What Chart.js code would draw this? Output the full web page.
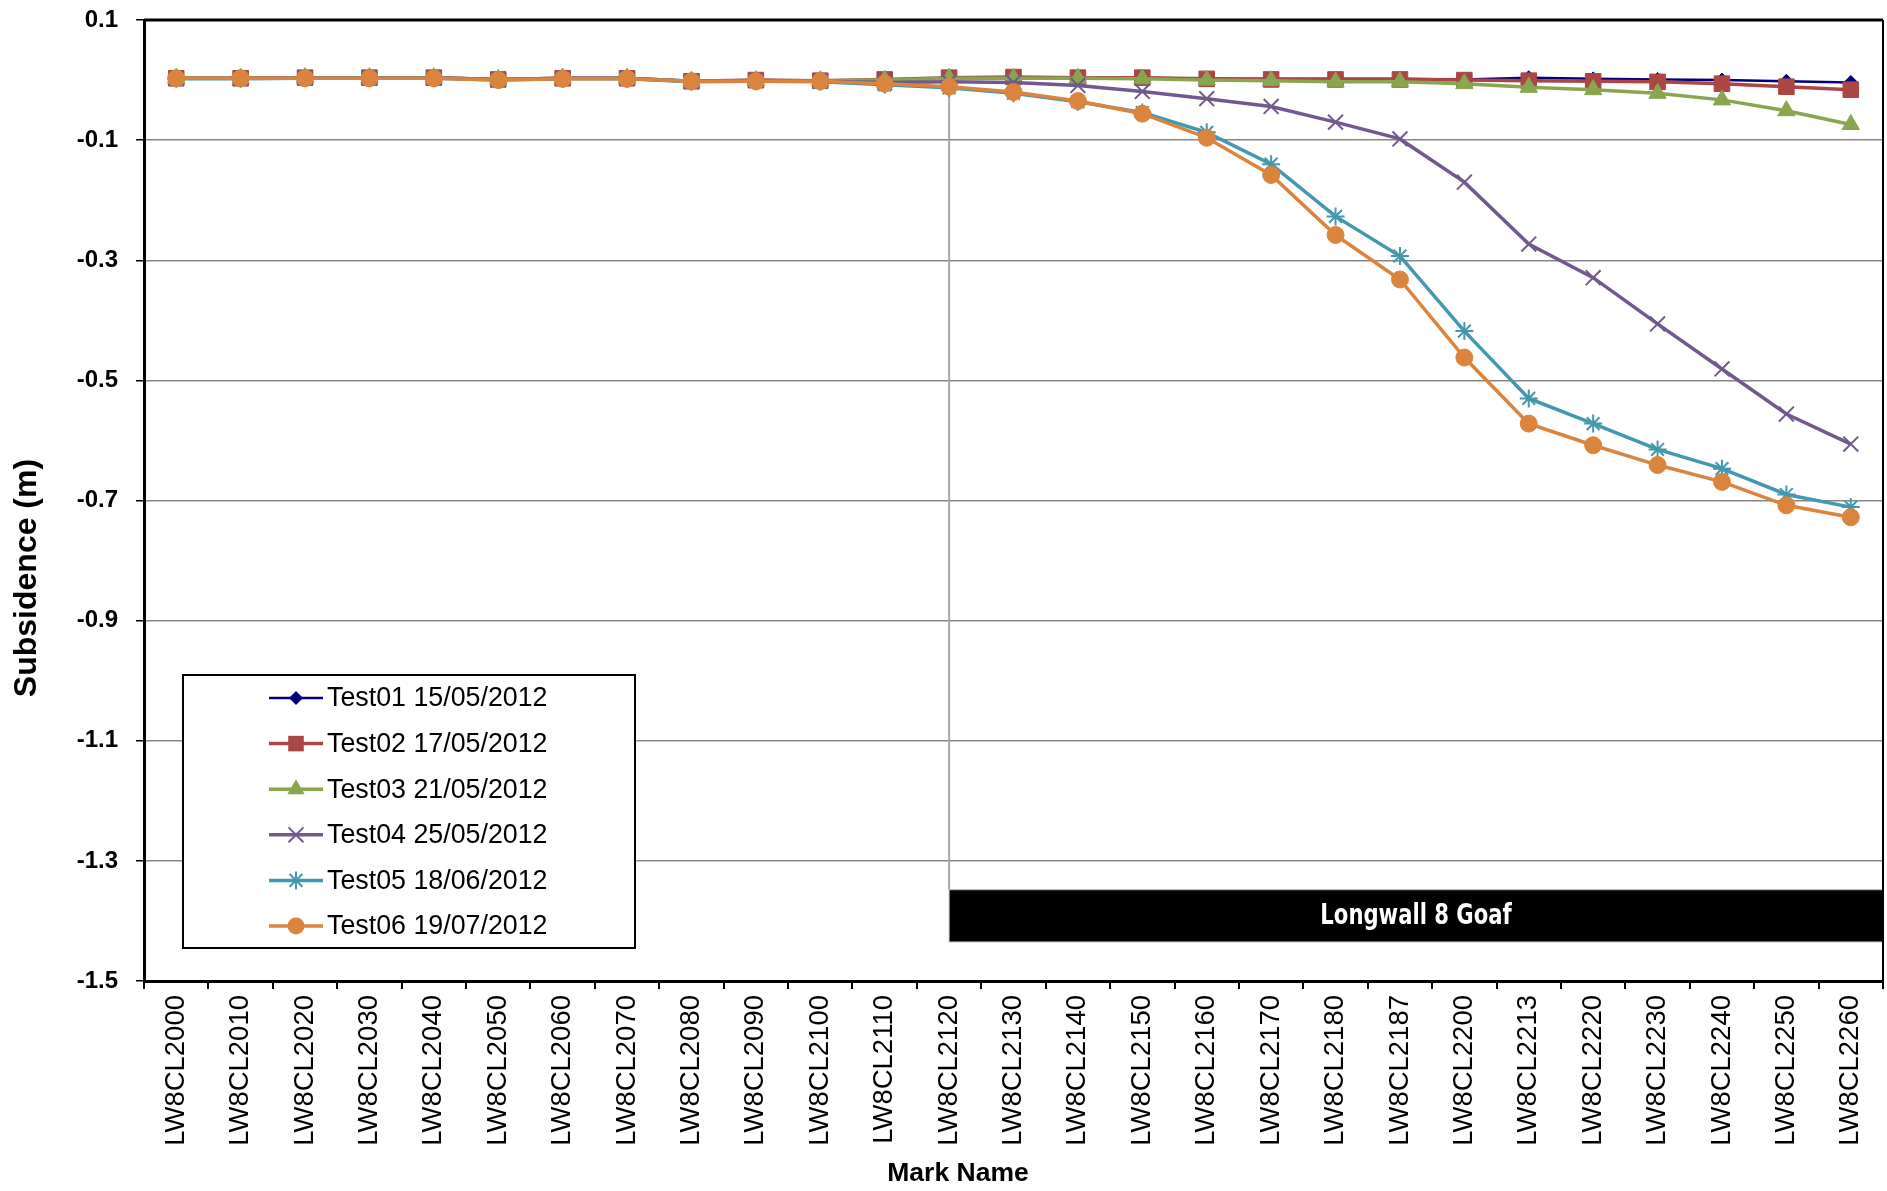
<!DOCTYPE html>
<html>
<head>
<meta charset="utf-8">
<script src="https://cdn.jsdelivr.net/npm/chart.js@4.4.1/dist/chart.umd.min.js"></script>
<style>
html,body{margin:0;padding:0;background:#fff;}
#wrap{width:1887px;height:1191px;position:relative;}
</style>
</head>
<body>
<div id="wrap"><canvas id="c" width="1887" height="1191"></canvas></div>
<script>
// ---------- data ----------
const markNames = [
  'LW8CL2000','LW8CL2010','LW8CL2020','LW8CL2030','LW8CL2040','LW8CL2050',
  'LW8CL2060','LW8CL2070','LW8CL2080','LW8CL2090','LW8CL2100','LW8CL2110',
  'LW8CL2120','LW8CL2130','LW8CL2140','LW8CL2150','LW8CL2160','LW8CL2170',
  'LW8CL2180','LW8CL2187','LW8CL2200','LW8CL2213','LW8CL2220','LW8CL2230',
  'LW8CL2240','LW8CL2250','LW8CL2260'
];
const yTicks = [0.1, -0.1, -0.3, -0.5, -0.7, -0.9, -1.1, -1.3, -1.5];
const seriesNames = [
  'Test01 15/05/2012','Test02 17/05/2012','Test03 21/05/2012',
  'Test04 25/05/2012','Test05 18/06/2012','Test06 19/07/2012'
];
const test01 = [0.003,0.003,0.004,0.004,0.004,0.001,0.003,0.003,-0.002,0.000,-0.001,0.000,
  0.003,0.004,0.004,0.004,0.002,0.002,0.002,0.002,0.001,0.004,0.002,0.001,0.000,-0.002,-0.004];
const test02 = [0.003,0.003,0.004,0.004,0.004,0.001,0.003,0.003,-0.002,0.000,-0.001,0.001,
  0.004,0.005,0.004,0.004,0.002,0.001,0.001,0.001,0.000,-0.001,-0.002,-0.003,-0.006,-0.011,-0.016];
const test03 = [0.003,0.003,0.004,0.004,0.004,0.001,0.003,0.003,-0.002,-0.001,-0.001,0.000,
  0.003,0.003,0.003,0.002,0.000,-0.001,-0.003,-0.003,-0.006,-0.012,-0.016,-0.022,-0.033,-0.051,-0.074];
const test04 = [0.003,0.003,0.004,0.004,0.004,0.001,0.003,0.003,-0.002,-0.001,-0.002,-0.004,
  -0.003,-0.004,-0.009,-0.019,-0.031,-0.044,-0.070,-0.098,-0.170,-0.273,-0.329,-0.406,-0.481,-0.556,-0.606];
const test05 = [0.002,0.002,0.003,0.003,0.003,0.000,0.002,0.002,-0.003,-0.002,-0.003,-0.008,
  -0.013,-0.022,-0.036,-0.054,-0.087,-0.140,-0.227,-0.293,-0.418,-0.530,-0.572,-0.615,-0.647,-0.690,-0.711];
const test06 = [0.003,0.003,0.003,0.003,0.003,0.000,0.002,0.002,-0.002,-0.002,-0.002,-0.006,
  -0.011,-0.020,-0.035,-0.056,-0.096,-0.158,-0.258,-0.332,-0.462,-0.572,-0.608,-0.641,-0.669,-0.708,-0.728];
const seriesValues = [test01, test02, test03, test04, test05, test06];

// axis titles
const yTitle = 'Subsidence (m)';
const xTitle = 'Mark Name';

// goaf annotation
const goafStartMark = 'LW8CL2120';
const goafTop = -1.348;
const goafBottom = -1.435;
const goafLabel = 'Longwall 8 Goaf';

// ---------- styles ----------
const seriesColors = ['#000080','#AA4643','#89A54E','#71588F','#4198AF','#DB843D'];
const pointStyles = ['rectRot','rect','triangle','crossRot','star','circle'];
const pointRadii = [7, 11, 10, 10.5, 9, 8.5];
const pointBorders = [1, 1, 1, 2, 2, 1];
const lineWidths = [2.5, 3.5, 3.5, 3.5, 3.5, 3.5];

const FONT = "'Liberation Sans', Arial, Helvetica, sans-serif";
Chart.defaults.font.family = FONT;
Chart.defaults.color = '#000';

const datasets = seriesNames.map((name, i) => ({
  label: name,
  data: seriesValues[i],
  borderColor: seriesColors[i],
  backgroundColor: seriesColors[i],
  borderWidth: lineWidths[i],
  pointStyle: pointStyles[i],
  pointRadius: pointRadii[i],
  pointHoverRadius: pointRadii[i],
  pointBorderWidth: pointBorders[i],
  pointBackgroundColor: seriesColors[i],
  pointBorderColor: seriesColors[i],
  tension: 0,
  fill: false,
  clip: false,
  order: seriesNames.length - i
}));

function drawMarker(ctx, style, x, y, r, color, bw) {
  ctx.save();
  ctx.fillStyle = color; ctx.strokeStyle = color; ctx.lineWidth = bw;
  ctx.beginPath();
  if (style === 'circle') {
    ctx.arc(x, y, r, 0, Math.PI * 2); ctx.fill();
  } else if (style === 'rect') {
    const s = r * Math.SQRT1_2; ctx.rect(x - s, y - s, 2 * s, 2 * s); ctx.fill();
  } else if (style === 'rectRot') {
    ctx.moveTo(x, y - r); ctx.lineTo(x + r, y); ctx.lineTo(x, y + r); ctx.lineTo(x - r, y);
    ctx.closePath(); ctx.fill();
  } else if (style === 'triangle') {
    let a = 0;
    ctx.moveTo(x + Math.sin(a) * r, y - Math.cos(a) * r);
    a += 2 * Math.PI / 3; ctx.lineTo(x + Math.sin(a) * r, y - Math.cos(a) * r);
    a += 2 * Math.PI / 3; ctx.lineTo(x + Math.sin(a) * r, y - Math.cos(a) * r);
    ctx.closePath(); ctx.fill();
  } else if (style === 'crossRot' || style === 'star') {
    const d = r * Math.SQRT1_2;
    ctx.moveTo(x - d, y - d); ctx.lineTo(x + d, y + d);
    ctx.moveTo(x - d, y + d); ctx.lineTo(x + d, y - d);
    if (style === 'star') {
      ctx.moveTo(x, y - r); ctx.lineTo(x, y + r);
      ctx.moveTo(x - r, y); ctx.lineTo(x + r, y);
    }
    ctx.stroke();
  }
  ctx.restore();
}

const overlayPlugin = {
  id: 'overlay',
  beforeDatasetsDraw(chart) {
    const ctx = chart.ctx;
    const xs = chart.scales.x, ys = chart.scales.y;
    const area = chart.chartArea;
    const idx = markNames.indexOf(goafStartMark);
    const gx = xs.getPixelForValue(idx);
    const lowest = Math.min(...seriesValues.map(s => s[idx]));
    const yTopLine = ys.getPixelForValue(lowest);
    const bTop = ys.getPixelForValue(goafTop);
    const bBot = ys.getPixelForValue(goafBottom);
    ctx.save();
    // vertical marker line
    ctx.strokeStyle = '#A6A6A6';
    ctx.lineWidth = 2;
    ctx.beginPath();
    ctx.moveTo(gx, yTopLine);
    ctx.lineTo(gx, bTop);
    ctx.stroke();
    // goaf box
    ctx.fillStyle = '#000';
    ctx.fillRect(gx, bTop, area.right - gx, bBot - bTop);
    ctx.strokeStyle = '#BFBFBF';
    ctx.lineWidth = 1;
    ctx.strokeRect(gx, bTop, area.right - gx, bBot - bTop);
    ctx.save();
    ctx.translate((gx + area.right) / 2, (bTop + bBot) / 2);
    ctx.scale(0.84, 1);
    ctx.fillStyle = '#fff';
    ctx.font = "bold 28px 'Liberation Sans Narrow', 'DejaVu Sans Condensed', 'Liberation Sans', sans-serif";
    ctx.textAlign = 'center';
    ctx.textBaseline = 'middle';
    ctx.fillText(goafLabel, 0, 1);
    ctx.restore();
    // frame: top and right borders
    ctx.strokeStyle = '#000';
    ctx.lineWidth = 3;
    ctx.beginPath();
    ctx.moveTo(area.left, area.top);
    ctx.lineTo(area.right, area.top);
    ctx.stroke();
    ctx.lineWidth = 2;
    ctx.beginPath();
    ctx.moveTo(area.right, area.top);
    ctx.lineTo(area.right, area.bottom);
    ctx.stroke();
    ctx.restore();
  },
  afterDatasetsDraw(chart) {
    const ctx = chart.ctx;
    const bx = 183, by = 675, bw = 452, bh = 273;
    ctx.save();
    ctx.fillStyle = '#fff';
    ctx.fillRect(bx, by, bw, bh);
    ctx.strokeStyle = '#000';
    ctx.lineWidth = 2;
    ctx.strokeRect(bx, by, bw, bh);
    ctx.font = '26.8px ' + FONT;
    ctx.textAlign = 'left';
    ctx.textBaseline = 'middle';
    seriesNames.forEach((name, i) => {
      const cy = 698 + i * 45.6;
      ctx.strokeStyle = seriesColors[i];
      ctx.lineWidth = lineWidths[i];
      ctx.beginPath();
      ctx.moveTo(269, cy); ctx.lineTo(323, cy);
      ctx.stroke();
      drawMarker(ctx, pointStyles[i], 296, cy, pointRadii[i], seriesColors[i], pointBorders[i]);
      ctx.fillStyle = '#000';
      ctx.fillText(name, 327, cy + 1);
    });
    ctx.restore();
  },
  afterDraw(chart) {
    const ctx = chart.ctx;
    ctx.save();
    ctx.fillStyle = '#000';
    ctx.textAlign = 'center';
    ctx.textBaseline = 'middle';
    // y axis title
    ctx.save();
    ctx.translate(27, 578);
    ctx.rotate(-Math.PI / 2);
    ctx.font = 'bold 32px ' + FONT;
    ctx.fillText(yTitle, 0, 0);
    ctx.restore();
    // x axis title
    ctx.font = 'bold 26.5px ' + FONT;
    ctx.fillText(xTitle, 958, 1174);
    ctx.restore();
  }
};

new Chart(document.getElementById('c'), {
  type: 'line',
  data: { labels: markNames, datasets },
  plugins: [overlayPlugin],
  options: {
    responsive: false,
    animation: false,
    devicePixelRatio: 1,
    events: [],
    layout: { autoPadding: false, padding: { top: 20, right: 4, left: 0, bottom: 0 } },
    plugins: { legend: { display: false }, tooltip: { enabled: false } },
    scales: {
      x: {
        type: 'category',
        offset: true,
        afterFit(scale) {
          scale.height = 210;
          scale.paddingLeft = 0; scale.paddingRight = 0;
          scale.paddingTop = 0; scale.paddingBottom = 0;
        },
        grid: {
          offset: true,
          drawOnChartArea: false,
          drawTicks: true,
          tickLength: 8,
          color: '#000',
          tickColor: '#000',
          lineWidth: 2
        },
        border: { color: '#000', width: 3 },
        ticks: {
          autoSkip: false,
          minRotation: 90,
          maxRotation: 90,
          padding: 6,
          color: '#000',
          font: { size: 27.5, family: FONT }
        }
      },
      y: {
        min: -1.5,
        max: 0.1,
        afterFit(scale) {
          scale.width = 144;
          scale.paddingLeft = 0; scale.paddingRight = 0;
          scale.paddingTop = 0; scale.paddingBottom = 0;
        },
        afterBuildTicks(scale) { scale.ticks = yTicks.map(v => ({ value: v })); },
        grid: {
          drawTicks: true,
          tickLength: 8,
          color: '#868686',
          tickColor: '#000',
          lineWidth: 1.5
        },
        border: { color: '#000', width: 3 },
        ticks: {
          padding: 18,
          color: '#000',
          font: { size: 24, weight: 'bold', family: FONT },
          callback: (v) => (Math.round(v * 10) / 10).toFixed(1)
        }
      }
    }
  }
});
</script>
</body>
</html>
